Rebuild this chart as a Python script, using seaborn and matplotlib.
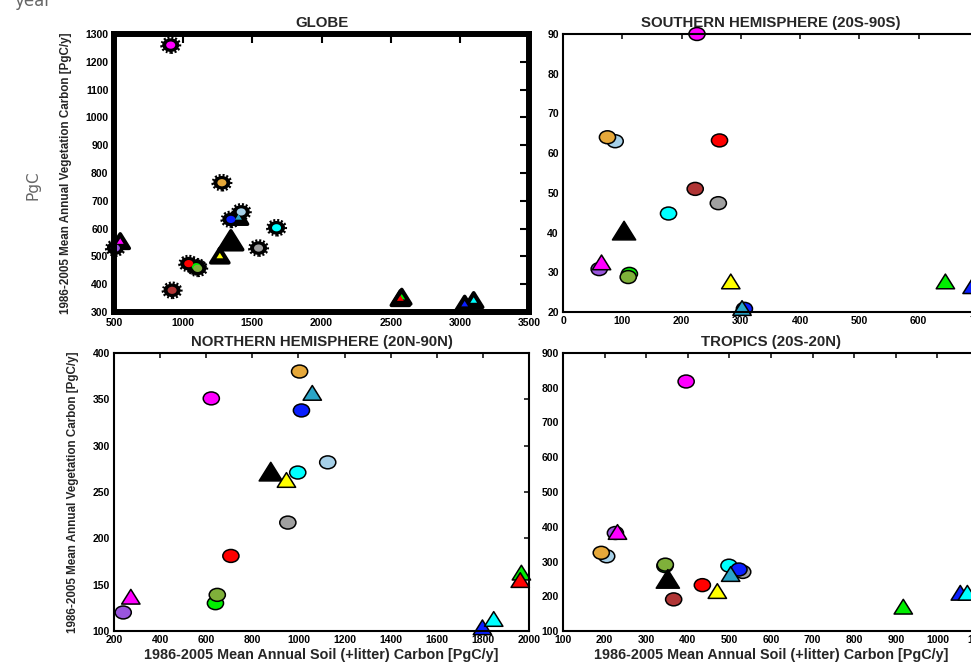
import numpy as np
import pandas as pd
import matplotlib
matplotlib.use("Agg")
import matplotlib.pyplot as plt
from matplotlib.path import Path
from matplotlib.transforms import Affine2D
import seaborn as sns

# ---- data -------------------------------------------------------------
models = ["lime_c", "olive_c", "lightblue_c", "orange_c", "purple_c", "magenta_c",
          "brown_c", "gray_c", "cyan_c", "red_c", "blue_c",
          "black_t", "magenta_t", "yellow_t", "teal_t", "lime_t", "red_t", "blue_t", "cyan_t"]
colors = ["#00EE00", "#7FB03A", "#A6D0E8", "#E6A83A", "#9955DD", "#FF00FF",
          "#B03535", "#A0A0A0", "#00FFFF", "#FF0000", "#0A1FFF",
          "#000000", "#FF00FF", "#FFFF00", "#2AA5C8", "#00EE00", "#FF0000", "#0A1FFF", "#00FFFF"]
shapes = ["o"] * 11 + ["^"] * 8

nan = np.nan
globe_soil = [1095, 1105, 1420, 1280, 510, 910, 920, 1545, 1675, 1040, 1345,
              1345, 545, 1265, 1400, 2580, 2570, 3035, 3100]
globe_veg = [463, 457, 660, 765, 530, 1260, 378, 530, 603, 474, 633,
             558, 555, 503, 642, 355, 350, 330, 343]

sh_soil = [112, 110, 88, 75, 61, 226, 223, 262, 178, 264, 306,
           103, 65, 283, 302, 645, nan, 690, nan]
sh_veg = [29.6, 28.8, 63, 64, 30.8, 90, 51, 47.4, 44.8, 63.2, 20.8,
          40.5, 32.5, 27.7, 21, 27.7, nan, 26.5, nan]

nh_soil = [640, 648, 1127, 1005, 240, 622, nan, 954, 997, 707, 1013,
           880, 273, 948, 1060, 1967, 1962, 1798, 1847]
nh_veg = [130, 139, 282, 380, 120, 351, nan, 217, 271, 181, 338,
          272, 137, 263, 357, 163, 155, 104, 113]

tr_soil = [345, 346, 205, 192, 226, 396, 366, 532, 499, 435, 523,
           352, 231, 471, 503, 918, nan, 1055, 1072]
tr_veg = [287, 291, 315, 325, 382, 818, 191, 270, 288, 232, 277,
          250, 385, 215, 264, 170, nan, 210, 210]

# ---- style ------------------------------------------------------------
sns.set_style("white")
plt.rcParams["font.family"] = ["Liberation Sans", "DejaVu Sans"]
plt.rcParams["font.weight"] = "bold"

ellipse = Path.unit_circle().transformed(Affine2D().scale(1.0, 0.8))
triangle = Path([(-1, -0.8), (1, -0.8), (0, 0.8), (-1, -0.8)],
                [Path.MOVETO, Path.LINETO, Path.LINETO, Path.CLOSEPOLY])
marker_map = {m: (ellipse if s == "o" else triangle) for m, s in zip(models, shapes)}
palette = dict(zip(models, colors))

W, H = 971, 663
fig = plt.figure(figsize=(W / 100, H / 100), dpi=100)


def axes_px(x0, y0, x1, y1):
    return fig.add_axes([x0 / W, 1 - y1 / H, (x1 - x0) / W, (y1 - y0) / H])


ax_gl = axes_px(114, 34, 529, 312)
ax_sh = axes_px(563, 34, 978, 312)
ax_nh = axes_px(114, 353, 529, 631)
ax_tr = axes_px(563, 353, 979, 631)


def table(soil, veg):
    df = pd.DataFrame({"model": models, "shape": shapes, "soil": soil, "veg": veg})
    return df.dropna().reset_index(drop=True)


def plain_panel(ax, soil, veg):
    df = table(soil, veg)
    sizes = {m: (280 if m == "black_t" else 175 if s == "^" else 135)
             for m, s in zip(models, shapes)}
    sns.scatterplot(data=df, x="soil", y="veg", hue="model", palette=palette,
                    style="model", markers=marker_map, size="model", sizes=sizes,
                    edgecolor="black", linewidth=1.1, legend=False, ax=ax,
                    clip_on=False, zorder=3)


def globe_panel(ax, soil, veg):
    df = table(soil, veg)
    circ = df[df["shape"] == "o"]
    tri = df[df["shape"] == "^"]
    black = {m: "black" for m in models}
    # circles: solid black body with a fringed (dotted) outline
    sns.scatterplot(data=circ, x="soil", y="veg", hue="model", palette=black,
                    style="model", markers=marker_map, s=150,
                    edgecolor="black", linewidth=2.9, linestyles=(0, (0.45, 0.45)),
                    legend=False, ax=ax, clip_on=False, zorder=3)
    # triangles: blunt solid black body
    tri_sizes = {m: (290 if m == "black_t" else 170) for m in tri["model"]}
    sns.scatterplot(data=tri, x="soil", y="veg", hue="model", palette=black,
                    style="model", markers=marker_map, size="model", sizes=tri_sizes,
                    edgecolor="black", linewidth=2.6, joinstyle="round",
                    legend=False, ax=ax, clip_on=False, zorder=3)
    # small coloured core
    core = {m: (24 if s == "^" else 42) for m, s in zip(models, shapes)}
    sns.scatterplot(data=df, x="soil", y="veg", hue="model", palette=palette,
                    style="model", markers=marker_map, size="model", sizes=core,
                    edgecolor="none", linewidth=0, legend=False, ax=ax,
                    clip_on=False, zorder=4)


globe_panel(ax_gl, globe_soil, globe_veg)
plain_panel(ax_sh, sh_soil, sh_veg)
plain_panel(ax_nh, nh_soil, nh_veg)
plain_panel(ax_tr, tr_soil, tr_veg)

limits = {
    ax_gl: ((500, 3500), np.arange(500, 3501, 500), (300, 1300), np.arange(300, 1301, 100)),
    ax_sh: ((0, 700), np.arange(0, 701, 100), (20, 90), np.arange(20, 91, 10)),
    ax_nh: ((200, 2000), np.arange(200, 2001, 200), (100, 400), np.arange(100, 401, 50)),
    ax_tr: ((100, 1100), np.arange(100, 1101, 100), (100, 900), np.arange(100, 901, 100)),
}
titles = {ax_gl: "GLOBE", ax_sh: "SOUTHERN HEMISPHERE (20S-90S)",
          ax_nh: "NORTHERN HEMISPHERE (20N-90N)", ax_tr: "TROPICS (20S-20N)"}

for ax, (xl, xt, yl, yt) in limits.items():
    ax.set_xlim(*xl)
    ax.set_ylim(*yl)
    ax.set_xticks(xt)
    ax.set_yticks(yt)
    ax.set_xlabel("")
    ax.set_ylabel("")
    thick = ax is ax_gl
    for sp in ax.spines.values():
        sp.set_visible(True)
        sp.set_color("black")
        sp.set_linewidth(4.3 if thick else 1.5)
        sp.set_zorder(5)
    ax.tick_params(direction="in", top=True, right=True,
                   length=6.5 if thick else 3.5, width=1.5 if thick else 1.1,
                   labelsize=7.5, pad=4 if thick else 3, colors="black")
    for lab in ax.get_xticklabels() + ax.get_yticklabels():
        lab.set_fontweight("bold")
    ax.set_title(titles[ax], fontsize=10.8, fontweight="bold", pad=5)

ylab = "1986-2005 Mean Annual Vegetation Carbon [PgC/y]"
xlab = "1986-2005 Mean Annual Soil (+litter) Carbon [PgC/y]"
ax_gl.set_ylabel(ylab, fontsize=8.4, fontweight="bold", labelpad=10)
ax_nh.set_ylabel(ylab, fontsize=8.4, fontweight="bold", labelpad=10)
ax_nh.set_xlabel(xlab, fontsize=10.4, fontweight="bold", labelpad=2)
ax_tr.set_xlabel(xlab, fontsize=10.4, fontweight="bold", labelpad=2)

fig.text(14 / W, 1 - 6 / H, "year", fontsize=12, color="#666666",
         fontweight="normal", family=["DejaVu Sans"], va="baseline", ha="left")
fig.text(33 / W, 1 - 185 / H, "PgC", fontsize=11, color="#666666",
         fontweight="normal", family=["DejaVu Sans"], rotation=90,
         va="center", ha="center")

fig.savefig("out.png", dpi=100)
